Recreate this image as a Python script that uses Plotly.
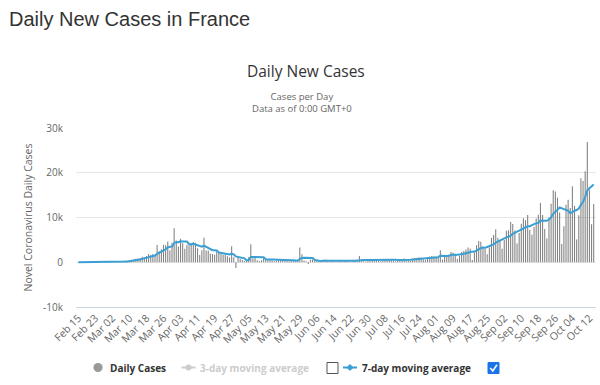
import pandas as pd
import plotly.graph_objects as go

# ---------------- data ----------------
START_DATE = "2020-02-15"

FEB = [0, 0, 0, 0, 0, 0, 0, 0, 0, 0, 2, 4, 20, 19, 43]
MAR = [30, 61, 21, 73, 138, 190, 336, 177, 286, 372, 497, 595, 785, 838, 924,
       1210, 1097, 1404, 1861, 1617, 1847, 1559, 3838, 2446, 2929, 3922, 3809,
       4611, 2599, 4376, 7578]
APR = [4861, 3500, 5233, 4267, 3000, 3912, 3777, 4300, 4500, 4342, 3114, 1613,
       2673, 5497, 2633, 2641, 1909, 1847, 1653, 2383, 2256, 1827, 1653, 1660,
       1355, 1075, 3567, 1138, -1300, 1100]
MAY = [800, 500, 300, 550, 1100, 4000, 900, 1000, 450, 300, 450, 900, 650, 700,
       550, 400, 250, 350, 500, 600, 550, 450, 300, 250, 400, 450, 350, 250,
       3300, 1800, 400]
JUN = [250, -400, 550, 600, 500, 450, 250, 150, 350, 400, 350, 400, 300, 150,
       100, 350, 400, 400, 450, 350, 150, 100, 400, 450, 400, 1400, 450, 250,
       150, 500]
JUL = [550, 600, 550, 600, 300, 250, 550, 650, 650, 700, 600, 350, 250, 500,
       550, 750, 850, 650, 400, 350, 800, 950, 1000, 1100, 1000, 600, 500, 1000,
       1300, 1400, 1350]
AUG = [1300, 1150, 2700, 600, 1300, 1350, 1650, 2300, 2100, 1900, 700, 1400,
       2300, 2500, 2850, 3300, 3000, 500, 2250, 3800, 4750, 4600, 3600, 3000,
       1800, 3300, 5400, 6100, 7400, 5450, 4900]
SEP = [3000, 4982, 7017, 7157, 8975, 8550, 7071, 4203, 6544, 8577, 9843, 9406,
       10561, 7183, 6158, 7852, 9784, 10593, 13215, 10569, 7457, 5298, 10008,
       13072, 16096, 15797, 14412, 11123, 4070, 8051]
OCT = [12845, 13970, 12148, 16972, 12565, 5084, 10489, 18746, 18129, 20339,
       26896, 16101, 8505, 12993]

DAILY_CASES = FEB + MAR + APR + MAY + JUN + JUL + AUG + SEP + OCT

TICK_DATES = ["2020-02-15", "2020-02-23", "2020-03-02", "2020-03-10", "2020-03-18",
              "2020-03-26", "2020-04-03", "2020-04-11", "2020-04-19", "2020-04-27",
              "2020-05-05", "2020-05-13", "2020-05-21", "2020-05-29", "2020-06-06",
              "2020-06-14", "2020-06-22", "2020-06-30", "2020-07-08", "2020-07-16",
              "2020-07-24", "2020-08-01", "2020-08-09", "2020-08-17", "2020-08-25",
              "2020-09-02", "2020-09-10", "2020-09-18", "2020-09-26", "2020-10-04",
              "2020-10-12"]
TICK_LABELS = ["Feb 15", "Feb 23", "Mar 02", "Mar 10", "Mar 18", "Mar 26", "Apr 03",
               "Apr 11", "Apr 19", "Apr 27", "May 05", "May 13", "May 21", "May 29",
               "Jun 06", "Jun 14", "Jun 22", "Jun 30", "Jul 08", "Jul 16", "Jul 24",
               "Aug 01", "Aug 09", "Aug 17", "Aug 25", "Sep 02", "Sep 10", "Sep 18",
               "Sep 26", "Oct 04", "Oct 12"]
Y_TICKS = [-10000, 0, 10000, 20000, 30000]
Y_LABELS = ["-10k", "0", "10k", "20k", "30k"]

dates = pd.date_range(START_DATE, periods=len(DAILY_CASES), freq="D")
# the chart's blue line is the trailing 7-day moving average of the daily bars
ma7 = pd.Series(DAILY_CASES).rolling(7, min_periods=1).mean()

# ---------------- layout helpers ----------------
W, H = 600, 385
L, R, T, B = 76, 4, 128, 78
PW, PH = W - L - R, H - T - B


def px(x):
    return (x - L) / PW


def py(y):
    return (H - B - y) / PH


BLUE = "#3a9fd3"
# alpha just below 1 keeps plotly from widening thin bars to whole pixels
GRAY_BAR = "rgba(128,128,128,0.99)"
FONT = "Open Sans"

fig = go.Figure()
fig.add_trace(go.Bar(x=dates, y=DAILY_CASES,
                     marker=dict(color=GRAY_BAR, line=dict(width=0)),
                     showlegend=False, name="Daily Cases"))
fig.add_trace(go.Scatter(x=dates, y=ma7, mode="lines", line=dict(color=BLUE, width=2),
                         showlegend=False, name="7-day moving average"))

fig.update_layout(
    width=W, height=H,
    margin=dict(l=L, r=R, t=T, b=B),
    paper_bgcolor="white", plot_bgcolor="white",
    bargap=0.5,
    font=dict(family=FONT, color="#666666"),
    xaxis=dict(type="date", range=["2020-02-13 22:00", "2020-10-15 02:00"],
               tickvals=TICK_DATES, ticktext=TICK_LABELS, tickangle=-45,
               tickfont=dict(size=10.5, color="#666666", family=FONT),
               showgrid=False, zeroline=False, showline=True, linecolor="#ccd6eb",
               linewidth=1, ticks=""),
    yaxis=dict(range=[-10000, 30000], tickvals=Y_TICKS, ticktext=Y_LABELS,
               tickfont=dict(size=10, color="#666666", family=FONT),
               showgrid=True, gridcolor="#e6e6e6", zeroline=False, showline=False,
               ticklabelstandoff=12),
)


def note(text, x, y, size, color, anchor="left", family=FONT, angle=0):
    return dict(text=text, x=px(x), y=py(y), xref="paper", yref="paper",
                xanchor=anchor, yanchor="middle", showarrow=False, textangle=angle,
                borderpad=0,
                font=dict(family=family, size=size, color=color))


ann = [
    note("Daily New Cases in France", 8, 19, 20, "#333333", family="Liberation Sans"),
    note("Daily New Cases", 306, 71, 15.5, "#333333", anchor="center"),
    note("Cases per Day<br>Data as of 0:00 GMT+0", 302, 102, 9.5, "#666666",
         anchor="center"),
    note("Novel Coronavirus Daily Cases", 27.5, 218, 10.5, "#666666", anchor="center",
         angle=-90),
]
LEG_Y = 367.5
ann += [
    note("<b>Daily Cases</b>", 109, LEG_Y, 10, "#333333"),
    note("<b>3-day moving average</b>", 199, LEG_Y, 10, "#cccccc"),
    note("<b>7-day moving average</b>", 361, LEG_Y, 10, "#333333"),
]

shapes = []


def circle(cx, cy, r, color):
    return dict(type="circle", xref="paper", yref="paper",
                x0=px(cx - r), x1=px(cx + r), y0=py(cy + r), y1=py(cy - r),
                fillcolor=color, line=dict(width=0))


def hline(x0, x1, y, color, w=2):
    return dict(type="line", xref="paper", yref="paper", x0=px(x0), x1=px(x1),
                y0=py(y), y1=py(y), line=dict(color=color, width=w))


def diamond(cx, cy, r, color):
    path = (f"M {px(cx)},{py(cy - r)} L {px(cx + r)},{py(cy)} "
            f"L {px(cx)},{py(cy + r)} L {px(cx - r)},{py(cy)} Z")
    return dict(type="path", xref="paper", yref="paper", path=path,
                fillcolor=color, line=dict(width=0))


shapes.append(circle(98, LEG_Y, 4.6, "#999999"))
shapes.append(hline(181.5, 195.5, LEG_Y, "#cccccc"))
shapes.append(circle(188.5, LEG_Y, 3, "#cccccc"))
shapes.append(hline(343, 357, LEG_Y, BLUE))
shapes.append(diamond(350, LEG_Y, 3.5, BLUE))
# checkboxes
shapes.append(dict(type="rect", xref="paper", yref="paper",
                   x0=px(327), x1=px(338), y0=py(373.5), y1=py(362.5),
                   fillcolor="white", line=dict(color="#555555", width=1)))
shapes.append(dict(type="rect", xref="paper", yref="paper",
                   x0=px(488), x1=px(499), y0=py(373.5), y1=py(362.5),
                   fillcolor="#1a73e8", line=dict(color="#1a73e8", width=1)))
check = (f"M {px(490.3)},{py(368)} L {px(492.8)},{py(371)} L {px(497)},{py(364.8)}")
shapes.append(dict(type="path", xref="paper", yref="paper", path=check,
                   line=dict(color="white", width=1.6)))

fig.update_layout(annotations=ann, shapes=shapes)
fig.write_html("out.html", config={"displayModeBar": False},
               post_script="document.body.style.margin='0';document.body.style.padding='0';")
